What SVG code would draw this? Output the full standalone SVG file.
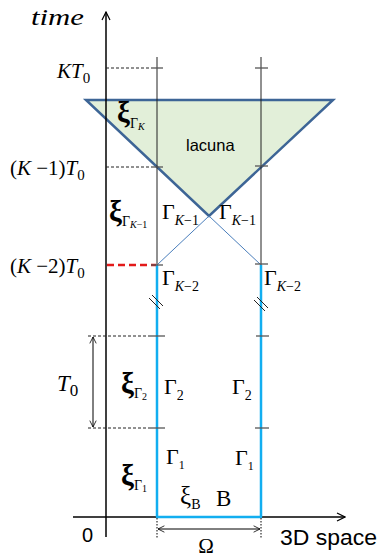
<svg xmlns="http://www.w3.org/2000/svg" width="381" height="559" viewBox="0 0 381 559">
<defs>
<style>
.ax{stroke:#000;stroke-width:1.5;fill:none}
.thin{stroke:#222;stroke-width:1;fill:none}
.tick{stroke:#555;stroke-width:1.3;fill:none}
.dash{stroke:#222;stroke-width:1;stroke-dasharray:3 2;fill:none}
.cyan{stroke:#12aef0;stroke-width:2.5;fill:none}
.bl{stroke:#4a7ebb;stroke-width:1;fill:none}
.m{font-family:"Liberation Serif",serif;fill:#000}
.i{font-style:italic}
.b{font-weight:bold}
.s{font-family:"Liberation Sans",sans-serif;fill:#000}
</style>
<marker id="ah" viewBox="0 0 10 10" refX="9" refY="5" markerWidth="10" markerHeight="10" markerUnits="userSpaceOnUse" orient="auto-start-reverse">
<path d="M1,1 L9,5 L1,9" fill="none" stroke="#000" stroke-width="1.2"/>
</marker>
<marker id="ah2" viewBox="0 0 10 10" refX="9" refY="5" markerWidth="8" markerHeight="8" markerUnits="userSpaceOnUse" orient="auto-start-reverse">
<path d="M1,1 L9,5 L1,9" fill="none" stroke="#000" stroke-width="1"/>
</marker>
</defs>

<g id="lacuna">
<polygon points="86,100 333,100 209,216" fill="#e2efd9" stroke="#3d6596" stroke-width="2.5" stroke-linejoin="miter"/>
</g>

<g id="connectors">
<line class="ax" x1="106" y1="537" x2="106" y2="12" marker-end="url(#ah)"/>
<line class="ax" x1="73" y1="517" x2="345" y2="517" marker-end="url(#ah)"/>
<line class="thin" x1="157" y1="57" x2="157" y2="265"/>
<line class="thin" x1="261" y1="57" x2="261" y2="265"/>
<line class="bl" x1="209" y1="216" x2="157" y2="265"/>
<line class="bl" x1="209" y1="216" x2="261" y2="265"/>
<line class="cyan" x1="157" y1="265" x2="157" y2="517"/>
<line class="cyan" x1="261" y1="265" x2="261" y2="517"/>
<line class="cyan" x1="156" y1="517" x2="262" y2="517" stroke-width="3"/>
<line class="dash" x1="106" y1="68" x2="151" y2="68"/>
<line class="dash" x1="106" y1="167" x2="151" y2="167"/>
<line x1="107" y1="265" x2="156" y2="265" stroke="#e31a1a" stroke-width="2.5" stroke-dasharray="7 4"/>
<line class="dash" x1="88" y1="336" x2="152" y2="336"/>
<line class="dash" x1="88" y1="428" x2="152" y2="428"/>
<line class="tick" x1="151" y1="68" x2="163" y2="68"/>
<line class="tick" x1="255" y1="68" x2="268" y2="68"/>
<line class="tick" x1="151" y1="167" x2="163" y2="167"/>
<line class="tick" x1="255" y1="166" x2="268" y2="166"/>
<line class="tick" x1="151" y1="265" x2="163" y2="265"/>
<line class="tick" x1="255" y1="264" x2="268" y2="264"/>
<line class="tick" x1="151" y1="336" x2="165" y2="336" stroke="#000"/>
<line class="tick" x1="256" y1="336" x2="269" y2="336" stroke="#000"/>
<line class="tick" x1="151" y1="428" x2="165" y2="428" stroke="#000"/>
<line class="tick" x1="255" y1="428" x2="269" y2="428" stroke="#000"/>
<g class="thin">
<line x1="149" y1="298" x2="160" y2="309"/>
<line x1="152" y1="295" x2="163" y2="306"/>
<line x1="254" y1="300" x2="265" y2="311"/>
<line x1="257" y1="297" x2="268" y2="308"/>
</g>
<line x1="93" y1="337" x2="93" y2="427" stroke="#000" stroke-width="1" marker-start="url(#ah2)" marker-end="url(#ah2)"/>
<line x1="158" y1="529" x2="260" y2="529" stroke="#000" stroke-width="1" marker-start="url(#ah2)" marker-end="url(#ah2)"/>
<line x1="157" y1="518" x2="157" y2="538" stroke="#000" stroke-width="1" stroke-dasharray="1.5 1.5"/>
<line x1="261" y1="518" x2="261" y2="538" stroke="#000" stroke-width="1" stroke-dasharray="1.5 1.5"/>
</g>

<g id="axis-labels">
<text class="m i" x="31" y="25" font-size="23" textLength="53" lengthAdjust="spacingAndGlyphs">time</text>
<text class="m i" x="57" y="78" font-size="21">KT<tspan font-style="normal" font-size="15" dy="5">0</tspan></text>
<text class="m" x="10" y="175" font-size="21">(<tspan font-style="italic">K</tspan> −1)<tspan font-style="italic">T</tspan><tspan font-size="15" dy="5">0</tspan></text>
<text class="m" x="10" y="273" font-size="21">(<tspan font-style="italic">K</tspan> −2)<tspan font-style="italic">T</tspan><tspan font-size="15" dy="5">0</tspan></text>
<text class="m i" x="57" y="391" font-size="23">T<tspan font-style="normal" font-size="17" dy="5">0</tspan></text>
<text class="s" x="82" y="542" font-size="20">0</text>
<text class="s" x="280" y="545" font-size="22" textLength="97" lengthAdjust="spacingAndGlyphs">3D space</text>
<text class="m" x="206" y="553" font-size="21" text-anchor="middle">Ω</text>
<text class="s" x="186" y="151" font-size="16.5">lacuna</text>
</g>

<g id="xi-labels">
<text class="m b" x="117" y="122" font-size="29">ξ<tspan font-weight="normal" font-size="14" dy="6">Γ</tspan><tspan font-weight="normal" font-style="italic" font-size="10" dy="2">K</tspan></text>
<text class="m b" x="109" y="221" font-size="29">ξ<tspan font-weight="normal" font-size="14" dy="5">Γ</tspan><tspan font-weight="normal" font-style="italic" font-size="10" dy="2">K</tspan><tspan font-weight="normal" font-size="10">−1</tspan></text>
<text class="m b" x="121" y="393" font-size="29">ξ<tspan font-weight="normal" font-size="14" dy="5">Γ</tspan><tspan font-weight="normal" font-size="10" dy="2">2</tspan></text>
<text class="m b" x="121" y="485" font-size="29">ξ<tspan font-weight="normal" font-size="14" dy="5">Γ</tspan><tspan font-weight="normal" font-size="10" dy="2">1</tspan></text>
<text class="m" x="180" y="504" font-size="25">ξ<tspan font-size="14" dy="5">B</tspan></text>
<text class="m" x="216" y="506" font-size="23">B</text>
</g>

<g id="gamma-labels">
<text class="m" x="162" y="219" font-size="22">Γ<tspan font-style="italic" font-size="14" dy="6">K</tspan><tspan font-size="14">−1</tspan></text>
<text class="m" x="219" y="219" font-size="22">Γ<tspan font-style="italic" font-size="14" dy="6">K</tspan><tspan font-size="14">−1</tspan></text>
<text class="m" x="162" y="285" font-size="22">Γ<tspan font-style="italic" font-size="14" dy="6">K</tspan><tspan font-size="14">−2</tspan></text>
<text class="m" x="264" y="285" font-size="22">Γ<tspan font-style="italic" font-size="14" dy="6">K</tspan><tspan font-size="14">−2</tspan></text>
<text class="m" x="164" y="394" font-size="22">Γ<tspan font-size="14" dy="6">2</tspan></text>
<text class="m" x="232" y="394" font-size="22">Γ<tspan font-size="14" dy="6">2</tspan></text>
<text class="m" x="166" y="464" font-size="22">Γ<tspan font-size="12" dy="5">1</tspan></text>
<text class="m" x="235" y="465" font-size="22">Γ<tspan font-size="12" dy="5">1</tspan></text>
</g>
</svg>
